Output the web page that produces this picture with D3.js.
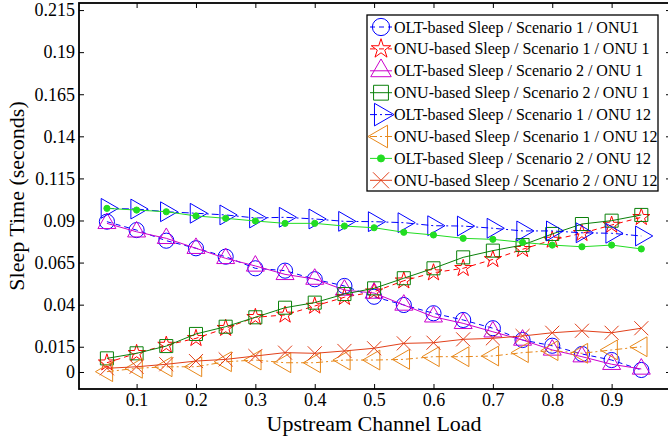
<html>
<head>
<style>
  body { margin: 0; background: #fff; }
  text { font-family: "Liberation Serif", "Times New Roman", serif; }
  .axis path { display: none; }
  .axis line { stroke: #000; stroke-width: 1px; }
  .axis text { font-size: 18px; fill: #000; }
</style>
</head>
<body>
<div id="chart"></div>
<script src="https://d3js.org/d3.v7.min.js"></script>
<script>
const loads = [0.05, 0.1, 0.15, 0.2, 0.25, 0.3, 0.35, 0.4, 0.45, 0.5,
               0.55, 0.6, 0.65, 0.7, 0.75, 0.8, 0.85, 0.9, 0.95];

const xTicks = [0.1, 0.2, 0.3, 0.4, 0.5, 0.6, 0.7, 0.8, 0.9];
const yTicks = [0, 0.015, 0.04, 0.065, 0.09, 0.115, 0.14, 0.165, 0.19, 0.215];

const oltS1Onu1  = [0.0893, 0.0843, 0.0780, 0.0735, 0.0685, 0.0616, 0.0602, 0.0551, 0.0511, 0.0447,
                    0.0398, 0.0349, 0.0309, 0.0260, 0.0190, 0.0156, 0.0107, 0.0071, 0.0012];
const onuS1Onu1  = [0.0055, 0.0111, 0.0160, 0.0200, 0.0260, 0.0325, 0.0339, 0.0392, 0.0444, 0.0477,
                    0.0542, 0.0590, 0.0616, 0.0669, 0.0729, 0.0784, 0.0824, 0.0873, 0.0919];
const oltS2Onu1  = [0.0883, 0.0833, 0.0794, 0.0735, 0.0675, 0.0630, 0.0580, 0.0552, 0.0487, 0.0469,
                    0.0398, 0.0328, 0.0289, 0.0239, 0.0190, 0.0131, 0.0091, 0.0046, 0.0018];
const onuS2Onu1  = [0.0081, 0.0111, 0.0154, 0.0226, 0.0269, 0.0325, 0.0382, 0.0412, 0.0463, 0.0497,
                    0.0557, 0.0616, 0.0681, 0.0721, 0.0754, 0.0820, 0.0879, 0.0899, 0.0933];
const oltS1Onu12 = [0.0972, 0.0968, 0.0952, 0.0943, 0.0933, 0.0915, 0.0919, 0.0909, 0.0895, 0.0893,
                    0.0887, 0.0869, 0.0867, 0.0854, 0.0838, 0.0838, 0.0827, 0.0824, 0.0808];
const onuS1Onu12 = [0.0002, 0.0022, 0.0031, 0.0031, 0.0061, 0.0071, 0.0055, 0.0055, 0.0071, 0.0071,
                    0.0075, 0.0091, 0.0091, 0.0095, 0.0115, 0.0127, 0.0111, 0.0131, 0.0150];
const oltS2Onu12 = [0.0972, 0.0962, 0.0952, 0.0927, 0.0913, 0.0897, 0.0883, 0.0883, 0.0867, 0.0857,
                    0.0830, 0.0814, 0.0794, 0.0788, 0.0770, 0.0754, 0.0744, 0.0754, 0.0731];
const onuS2Onu12 = [0.0022, 0.0031, 0.0046, 0.0065, 0.0075, 0.0095, 0.0115, 0.0111, 0.0125, 0.0141,
                    0.0170, 0.0174, 0.0194, 0.0200, 0.0214, 0.0233, 0.0245, 0.0233, 0.0260];

const series = [
  { name: 'OLT-based Sleep / Scenario 1 / ONU1',    values: oltS1Onu1,  color: '#0000ff', dash: '5,4',      symbol: d3.symbolCircle,   size: 180, rotate: 0 },
  { name: 'ONU-based Sleep / Scenario 1 / ONU 1',   values: onuS1Onu1,  color: '#ff0000', dash: '5,4',      symbol: d3.symbolStar,     size: 90,  rotate: 0 },
  { name: 'OLT-based Sleep / Scenario 2 / ONU 1',   values: oltS2Onu1,  color: '#cc00cc', dash: null,       symbol: d3.symbolTriangle, size: 140, rotate: 0 },
  { name: 'ONU-based Sleep / Scenario 2 / ONU 1',   values: onuS2Onu1,  color: '#0a800a', dash: null,       symbol: d3.symbolSquare,   size: 170, rotate: 0 },
  { name: 'OLT-based Sleep / Scenario 1 / ONU 12',  values: oltS1Onu12, color: '#0000ff', dash: '7,3,2,3',  symbol: d3.symbolTriangle, size: 170, rotate: 90 },
  { name: 'ONU-based Sleep / Scenario 1 / ONU 12',  values: onuS1Onu12, color: '#e8881a', dash: '7,3,2,3',  symbol: d3.symbolTriangle, size: 170, rotate: -90 },
  { name: 'OLT-based Sleep / Scenario 2 / ONU 12',  values: oltS2Onu12, color: '#22dd22', dash: null,       symbol: d3.symbolCircle,   size: 30,  rotate: 0, filled: true },
  { name: 'ONU-based Sleep / Scenario 2 / ONU 12',  values: onuS2Onu12, color: '#e2401a', dash: null,       symbol: d3.symbolTimes,    size: 130, rotate: 0 }
];

const W = 668, H = 437;
const margin = { top: 3, left: 79 };
const plotW = 592, plotH = 386;

const xScale = d3.scaleLinear().domain([0.003, 1.0]).range([0, plotW]);
const yScale = d3.scaleLinear().domain([-0.0101, 0.2192]).range([plotH, 0]);

const svg = d3.select('#chart').append('svg')
  .attr('width', W).attr('height', H);

const g = svg.append('g')
  .attr('transform', `translate(${margin.left},${margin.top})`);

// inward ticks on all four sides
g.append('g').attr('class', 'axis')
  .attr('transform', `translate(0,${plotH})`)
  .call(d3.axisBottom(xScale).tickValues(xTicks).tickSizeInner(-5).tickSizeOuter(0).tickPadding(4)
    .tickFormat(d3.format('.1f')));
g.append('g').attr('class', 'axis')
  .call(d3.axisTop(xScale).tickValues(xTicks).tickSizeInner(-5).tickSizeOuter(0).tickFormat(''));
g.append('g').attr('class', 'axis')
  .call(d3.axisLeft(yScale).tickValues(yTicks).tickSizeInner(-5).tickSizeOuter(0).tickPadding(4)
    .tickFormat(d => d === 0 ? '0' : String(d)));
g.append('g').attr('class', 'axis')
  .attr('transform', `translate(${plotW},0)`)
  .call(d3.axisRight(yScale).tickValues(yTicks).tickSizeInner(-5).tickSizeOuter(0).tickFormat(''));

g.append('rect')
  .attr('x', 0).attr('y', 0).attr('width', plotW).attr('height', plotH)
  .attr('fill', 'none').attr('stroke', '#000').attr('stroke-width', 1.8);

const line = d3.line()
  .x((d, i) => xScale(loads[i]))
  .y(d => yScale(d));

const layers = g.selectAll('.series')
  .data(series)
  .enter()
  .append('g')
  .attr('class', 'series');

layers.append('path')
  .attr('d', d => line(d.values))
  .attr('fill', 'none')
  .attr('stroke', d => d.color)
  .attr('stroke-width', 1)
  .attr('stroke-dasharray', d => d.dash);

layers.each(function (s) {
  d3.select(this).selectAll('.mark')
    .data(s.values)
    .enter()
    .append('path')
    .attr('class', 'mark')
    .attr('d', d3.symbol().type(s.symbol).size(s.size))
    .attr('transform', (d, i) => `translate(${xScale(loads[i])},${yScale(d)}) rotate(${s.rotate})`)
    .attr('fill', s.filled ? s.color : 'none')
    .attr('stroke', s.color)
    .attr('stroke-width', 1);
});

// axis titles
svg.append('text')
  .attr('x', margin.left + xScale(0.5))
  .attr('y', 431)
  .attr('text-anchor', 'middle')
  .style('font-size', '22px')
  .text('Upstream Channel Load');

svg.append('text')
  .attr('transform', `translate(24,${margin.top + plotH / 2}) rotate(-90)`)
  .attr('text-anchor', 'middle')
  .style('font-size', '22px')
  .text('Sleep Time (seconds)');

// legend
const legend = svg.append('g').attr('transform', 'translate(367,15)');
legend.append('rect')
  .attr('width', 291).attr('height', 176)
  .attr('fill', '#fff').attr('stroke', '#000').attr('stroke-width', 1.3);

const items = legend.selectAll('.item')
  .data(series)
  .enter()
  .append('g')
  .attr('class', 'item')
  .attr('transform', (d, i) => `translate(0,${12 + i * 21.9})`);

items.append('line')
  .attr('x1', 3).attr('x2', 25)
  .attr('stroke', d => d.color)
  .attr('stroke-width', 1)
  .attr('stroke-dasharray', d => d.dash);

items.append('path')
  .attr('d', d => d3.symbol().type(d.symbol).size(d.size * 1.3)())
  .attr('transform', d => `translate(14,0) rotate(${d.rotate})`)
  .attr('fill', d => d.filled ? d.color : 'none')
  .attr('stroke', d => d.color)
  .attr('stroke-width', 1);

items.append('text')
  .attr('x', 27)
  .attr('y', 5.5)
  .style('font-size', '16px')
  .text(d => d.name);
</script>
</body>
</html>
